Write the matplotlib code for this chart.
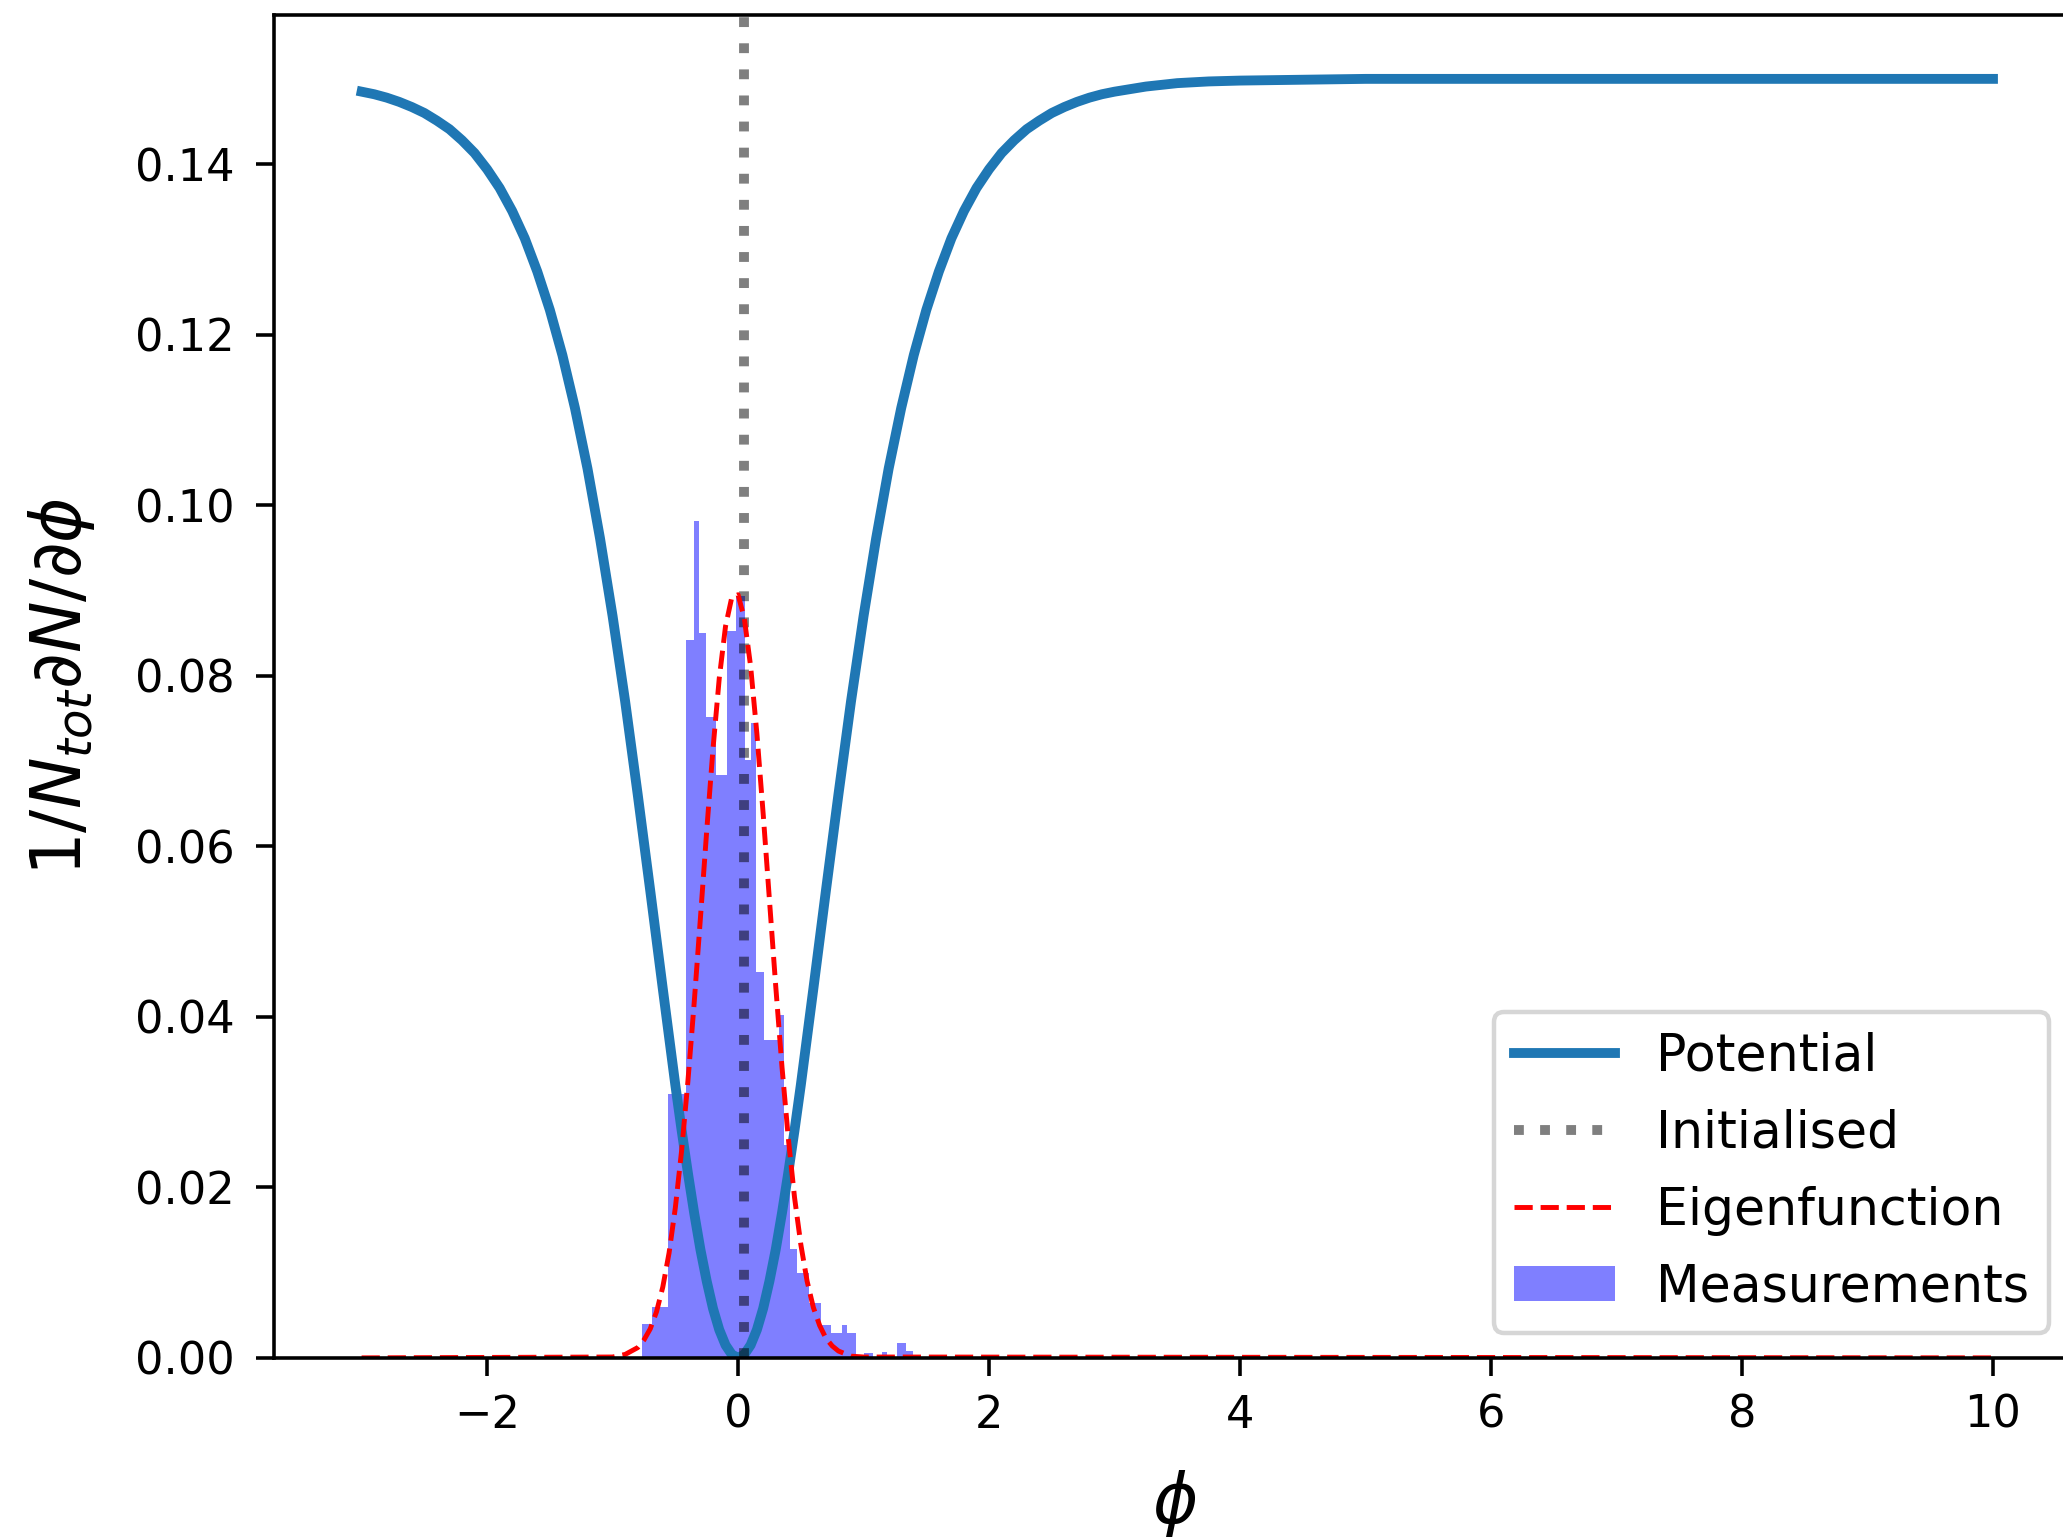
import matplotlib
matplotlib.use("Agg")
import matplotlib.pyplot as plt

# Potential V(phi)
pot_phi = [-3.0, -2.9, -2.8, -2.7, -2.6, -2.5, -2.4, -2.3, -2.2, -2.1, -2.0, -1.9, -1.8,
           -1.7, -1.6, -1.5, -1.4, -1.3, -1.2, -1.1, -1.0, -0.9, -0.8, -0.7, -0.6,
           -0.5, -0.45, -0.4, -0.35, -0.3, -0.25, -0.2, -0.15, -0.1, -0.05, 0.0,
           0.05, 0.1, 0.15, 0.2, 0.25, 0.3, 0.35, 0.4, 0.45, 0.5,
           0.6, 0.7, 0.8, 0.9, 1.0, 1.1, 1.2, 1.3, 1.4, 1.5, 1.6, 1.7, 1.8, 1.9,
           2.0, 2.1, 2.2, 2.3, 2.4, 2.5, 2.6, 2.7, 2.8, 2.9, 3.0, 3.25, 3.5, 3.75,
           4.0, 4.5, 5.0, 6.0, 8.0, 10.0]
pot_val = [0.1485, 0.1482, 0.1478, 0.1473, 0.1467, 0.1460, 0.1451, 0.1441, 0.1428,
           0.1413, 0.1394, 0.1372, 0.1345, 0.1313, 0.1274, 0.1229, 0.1176, 0.1114,
           0.1043, 0.0961, 0.0870, 0.0770, 0.0661, 0.0548, 0.0433, 0.0320, 0.0267,
           0.0217, 0.0170, 0.0127, 0.0090, 0.0058, 0.0033, 0.0015, 0.0004, 0.0,
           0.0004, 0.0015, 0.0033, 0.0058, 0.0090, 0.0127, 0.0170, 0.0217, 0.0267,
           0.0320, 0.0433, 0.0548, 0.0661, 0.0770, 0.0870, 0.0961, 0.1043, 0.1114,
           0.1176, 0.1229, 0.1274, 0.1313, 0.1345, 0.1372, 0.1394, 0.1413, 0.1428,
           0.1441, 0.1451, 0.1460, 0.1467, 0.1473, 0.1478, 0.1482, 0.1485, 0.1491,
           0.1495, 0.1497, 0.1498, 0.1499, 0.1500, 0.1500, 0.1500, 0.1500]

# Ground-state eigenfunction
eig_phi = [-3.0, -1.0, -0.9, -0.8, -0.75, -0.7, -0.65, -0.6, -0.55, -0.5, -0.45, -0.4,
           -0.35, -0.3, -0.25, -0.2, -0.15, -0.1, -0.05, 0.0, 0.05, 0.1, 0.15, 0.2,
           0.25, 0.3, 0.35, 0.4, 0.45, 0.5, 0.55, 0.6, 0.65, 0.7, 0.75, 0.8, 0.9,
           1.0, 10.0]
eig_val = [0.0, 0.0001, 0.0004, 0.0012, 0.0021, 0.0034, 0.0054, 0.0083, 0.0123, 0.0176,
           0.0243, 0.0324, 0.0416, 0.0516, 0.0618, 0.0714, 0.0797, 0.0858, 0.0892,
           0.0895, 0.0867, 0.0811, 0.0732, 0.0638, 0.0537, 0.0436, 0.0341, 0.0258,
           0.0188, 0.0133, 0.0090, 0.0059, 0.0038, 0.0023, 0.0014, 0.0008, 0.0002,
           0.0001, 0.0]

# Initial field value
phi_init = 0.05

# Measured distribution (bin edges and normalised heights)
meas_edges = [-0.767, -0.682, -0.562, -0.416, -0.355, -0.315, -0.252, -0.172, -0.092,
              -0.018, 0.053, 0.100, 0.146, 0.207, 0.326, 0.366, 0.410, 0.473, 0.565,
              0.658, 0.738, 0.831, 0.871, 0.937, 1.003, 1.075, 1.150, 1.190, 1.269,
              1.335, 1.393]
meas_heights = [0.0040, 0.0060, 0.0310, 0.0842, 0.0982, 0.0850, 0.0752, 0.0684, 0.0852,
                0.0893, 0.0701, 0.0744, 0.0453, 0.0373, 0.0402, 0.0250, 0.0128, 0.0099,
                0.0064, 0.0038, 0.0029, 0.0038, 0.0029, 0.0, 0.0006, 0.0, 0.0007, 0.0,
                0.0017, 0.0008]

DPI = 322.3
fig = plt.figure(figsize=(2063 / DPI, 1539 / DPI), dpi=DPI)
ax = fig.add_axes([0.1327, 0.1177, 1.0056 - 0.1327, 0.9903 - 0.1177])

centers = [(a + b) / 2 for a, b in zip(meas_edges[:-1], meas_edges[1:])]
_, _, hist_patches = ax.hist(centers, bins=meas_edges, weights=meas_heights,
                             histtype="stepfilled", color="blue", alpha=0.5,
                             linewidth=0, label="Measurements")

(l_pot,) = ax.plot(pot_phi, pot_val, color="#1f77b4", lw=2.2, label="Potential")
l_init = ax.axvline(phi_init, color="k", alpha=0.5, ls=":", lw=2.2, label="Initialised")
(l_eig,) = ax.plot(eig_phi, eig_val, color="red", ls="--", lw=1.1, label="Eigenfunction")

ax.set_xlim(-3.70, 10.65)
ax.set_ylim(0, 0.1575)
ax.tick_params(axis="both", which="major", length=4.1)
ax.tick_params(axis="y", pad=4.6)
ax.tick_params(axis="x", pad=3.9)
ax.set_xlabel(r"$\phi$", fontsize=15.4, labelpad=7)
ax.set_ylabel(r"$1/N_{tot}\partial N/\partial\phi$", fontsize=15.4, labelpad=8.5)

ax.legend(handles=[l_pot, l_init, l_eig, hist_patches[0]], loc="lower right",
          fontsize=11.3, labelspacing=0.53)

fig.savefig("out.png", dpi=DPI)
